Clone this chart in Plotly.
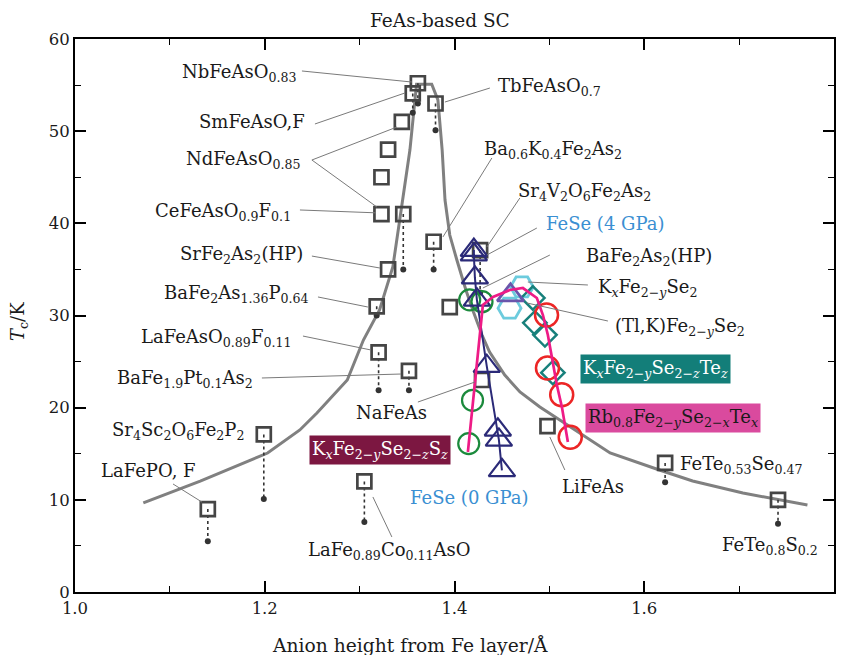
import plotly.graph_objects as go

FONT = "DejaVu Serif"

# ---- Tc trend curve (anion height in Å, Tc in K) ----
curve_h = [1.072, 1.132, 1.203, 1.237, 1.255, 1.287, 1.304, 1.321, 1.335, 1.345, 1.353, 1.360,
           1.376, 1.3825, 1.387, 1.390, 1.395, 1.4025, 1.412, 1.420, 1.429, 1.437, 1.453,
           1.469, 1.490, 1.511, 1.532, 1.564, 1.616, 1.651, 1.704, 1.772]
curve_tc = [9.66, 12.04, 15.08, 17.58, 19.42, 23.0, 27.34, 30.6, 35.26, 42.53, 47.95, 55.1,
            55.1, 53.4, 47.95, 42.53, 38.73, 36.02, 32.77, 30.38, 27.88, 26.04, 23.54,
            21.70, 20.07, 18.66, 17.25, 15.08, 13.24, 12.04, 10.74, 9.44]

# ---- compounds shown as open squares ----
sq_h = [1.140, 1.199, 1.305, 1.352, 1.320, 1.318, 1.330, 1.323, 1.346, 1.323, 1.330, 1.3445,
        1.356, 1.3614, 1.380, 1.378, 1.427, 1.395, 1.429, 1.498, 1.622, 1.741]
sq_tc = [9.0, 17.1, 12.0, 24.0, 26.0, 31.0, 35.0, 41.0, 41.0, 45.0, 48.0, 51.0,
         54.1, 55.2, 53.0, 38.0, 37.1, 30.9, 23.0, 18.0, 14.0, 10.0]

# ---- dotted ranges: Tc of the square down to the lower Tc value ----
drop_h = [1.140, 1.199, 1.305, 1.352, 1.320, 1.318, 1.346, 1.356, 1.3614, 1.380, 1.378, 1.427, 1.622, 1.741]
drop_top = [9.0, 17.1, 12.0, 24.0, 26.0, 31.0, 41.0, 54.1, 55.2, 53.0, 38.0, 37.1, 14.0, 10.0]
drop_bot = [5.5, 10.1, 7.6, 21.9, 21.9, 30.0, 35.0, 52.0, 53.0, 50.1, 35.0, 32.5, 11.9, 7.4]

# ---- FeSe under pressure (navy triangles, joined) ----
fese_h = [1.4204, 1.4204, 1.4215, 1.4236, 1.434, 1.4457, 1.4468, 1.450]
fese_tc = [37.1, 36.6, 34.1, 31.7, 24.5, 17.6, 16.5, 13.2]

# ---- KxFe2-ySe2-zSz (green circles) ----
green_h = [1.416, 1.429, 1.419, 1.415]
green_tc = [31.7, 31.5, 20.8, 16.1]

# ---- guide line through the selenide data (pink) ----
pink_h = [1.4141, 1.4299, 1.4405, 1.4584, 1.4721, 1.4868, 1.4932, 1.4984, 1.5026, 1.5079, 1.5132, 1.5195]
pink_tc = [15.19, 31.14, 32.01, 32.77, 32.98, 31.90, 30.05, 27.88, 25.50, 22.46, 20.07, 16.27]

# ---- Rb0.8Fe2-ySe2-xTex (red circles) ----
red_h = [1.497, 1.498, 1.513, 1.522]
red_tc = [30.05, 24.3, 21.4, 16.8]

# ---- KxFe2-ySe2-zTez (teal diamonds) ----
teal_h = [1.4826, 1.4847, 1.4953, 1.5037]
teal_tc = [31.9, 29.2, 27.9, 23.8]

# ---- KxFe2-ySe2 (light blue hexagons) ----
hex_h = [1.471, 1.458]
hex_tc = [33.1, 30.8]

# ---- (Tl,K)Fe2-ySe2 (purple triangle) ----
purple_h = [1.459]
purple_tc = [32.2]

# ---- text labels ----
label_text = [
    "NbFeAsO<sub>0.83</sub>", "TbFeAsO<sub>0.7</sub>", "SmFeAsO,F", "NdFeAsO<sub>0.85</sub>",
    "CeFeAsO<sub>0.9</sub>F<sub>0.1</sub>", "SrFe<sub>2</sub>As<sub>2</sub>(HP)",
    "BaFe<sub>2</sub>As<sub>1.36</sub>P<sub>0.64</sub>", "LaFeAsO<sub>0.89</sub>F<sub>0.11</sub>",
    "BaFe<sub>1.9</sub>Pt<sub>0.1</sub>As<sub>2</sub>",
    "Sr<sub>4</sub>Sc<sub>2</sub>O<sub>6</sub>Fe<sub>2</sub>P<sub>2</sub>", "LaFePO, F",
    "LaFe<sub>0.89</sub>Co<sub>0.11</sub>AsO", "NaFeAs", "LiFeAs",
    "FeTe<sub>0.53</sub>Se<sub>0.47</sub>", "FeTe<sub>0.8</sub>S<sub>0.2</sub>",
    "Ba<sub>0.6</sub>K<sub>0.4</sub>Fe<sub>2</sub>As<sub>2</sub>",
    "Sr<sub>4</sub>V<sub>2</sub>O<sub>6</sub>Fe<sub>2</sub>As<sub>2</sub>",
    "BaFe<sub>2</sub>As<sub>2</sub>(HP)",
    "K<sub><i>x</i></sub>Fe<sub>2−<i>y</i></sub>Se<sub>2</sub>",
    "(Tl,K)Fe<sub>2−<i>y</i></sub>Se<sub>2</sub>",
]
label_x = [1.235, 1.4436, 1.2445, 1.2392, 1.2297, 1.2424, 1.2487, 1.2297, 1.1897, 1.1812, 1.1296,
           1.3319, 1.334, 1.5464, 1.6354, 1.7324, 1.4289, 1.4647, 1.5364, 1.549, 1.5669]
label_y = [56.3, 54.8, 51.0, 46.9, 41.2, 36.6, 32.3, 27.6, 23.1, 17.5, 13.2,
           4.4, 19.5, 11.5, 13.8, 5.0, 48.0, 43.4, 36.3, 33.0, 28.7]
label_anchor = ["right", "left", "right", "right", "right", "right", "right", "right", "right",
                "right", "right", "center", "center", "center", "left", "center",
                "left", "left", "left", "left", "left"]

# FeSe pressure labels (blue)
blue_text = ["FeSe (4 GPa)", "FeSe (0 GPa)"]
blue_x = [1.4942, 1.4162]
blue_y = [40.0, 10.3]
blue_anchor = ["left", "center"]

# boxed series labels
box_text = ["K<sub><i>x</i></sub>Fe<sub>2−<i>y</i></sub>Se<sub>2−<i>z</i></sub>Te<sub><i>z</i></sub>",
            "Rb<sub>0.8</sub>Fe<sub>2−<i>y</i></sub>Se<sub>2−<i>x</i></sub>Te<sub><i>x</i></sub>",
            "K<sub><i>x</i></sub>Fe<sub>2−<i>y</i></sub>Se<sub>2−<i>z</i></sub>S<sub><i>z</i></sub>"]
box_x = [1.6122, 1.6301, 1.3214]
box_y = [24.25, 18.93, 15.41]
box_bg = ["#137e79", "#da4a9e", "#7c1741"]
box_fg = ["white", "#1a1a1a", "white"]

# leader lines from labels to their points
lead_x0 = [1.2392, 1.4373, 1.2529, 1.2497, 1.2497, 1.2371, 1.2497, 1.2561, 1.2403, 1.1970, 1.1033,
           1.3140, 1.3614, 1.5163, 1.4394, 1.4689, 1.4868, 1.5005, 1.5406, 1.5617]
lead_y0 = [56.53, 54.68, 50.78, 46.87, 46.87, 41.45, 36.45, 32.01, 27.77, 23.22, 11.72,
           10.31, 20.61, 13.24, 47.09, 42.75, 39.49, 36.56, 33.31, 29.40]
lead_x1 = [1.3551, 1.3899, 1.3477, 1.3393, 1.3182, 1.3172, 1.3214, 1.3087, 1.3119, 1.3435, 1.1338,
           1.3340, 1.4215, 1.5005, 1.3878, 1.4341, 1.4341, 1.4299, 1.4773, 1.4763]
lead_y1 = [55.33, 53.16, 54.14, 50.45, 41.77, 41.14, 35.15, 30.92, 26.26, 23.65, 9.76,
           5.97, 22.78, 16.82, 38.52, 37.43, 36.56, 32.98, 33.63, 31.36]

LABEL_SIZE = 18
WIDTH, HEIGHT = 846, 655
LEFT, RIGHT, TOP, BOTTOM = 75, 12, 39, 63
PW, PH = WIDTH - LEFT - RIGHT, HEIGHT - TOP - BOTTOM

fig = go.Figure()

# trend curve
fig.add_trace(go.Scatter(x=curve_h, y=curve_tc, mode="lines",
                         line=dict(color="#808080", width=3), hoverinfo="skip"))

# dotted ranges with end dots
for h, top, bot in zip(drop_h, drop_top, drop_bot):
    fig.add_trace(go.Scatter(x=[h, h], y=[top, bot], mode="lines",
                             line=dict(color="#333333", width=1.6, dash="dot"), hoverinfo="skip"))
fig.add_trace(go.Scatter(x=drop_h, y=drop_bot, mode="markers",
                         marker=dict(color="#333333", size=6), hoverinfo="skip"))

# squares
fig.add_trace(go.Scatter(x=sq_h, y=sq_tc, mode="markers",
                         marker=dict(symbol="square-open", size=14, color="#454545",
                                     line=dict(width=2.7, color="#454545"))))

# green circles
fig.add_trace(go.Scatter(x=green_h, y=green_tc, mode="markers",
                         marker=dict(symbol="circle-open", size=21, color="#1b8a3c",
                                     line=dict(width=2.2, color="#1b8a3c"))))

# hexagons
fig.add_trace(go.Scatter(x=hex_h, y=hex_tc, mode="markers",
                         marker=dict(symbol="hexagon2-open", size=23, color="#6ccbdd",
                                     line=dict(width=2.8, color="#6ccbdd"))))

# teal diamonds
fig.add_trace(go.Scatter(x=teal_h, y=teal_tc, mode="markers",
                         marker=dict(symbol="diamond-open", size=18, color="#17807b",
                                     line=dict(width=2.5, color="#17807b"))))

# red circles
fig.add_trace(go.Scatter(x=red_h, y=red_tc, mode="markers",
                         marker=dict(symbol="circle-open", size=23, color="#ec2525",
                                     line=dict(width=2.5, color="#ec2525"))))

# purple triangle
fig.add_trace(go.Scatter(x=purple_h, y=purple_tc, mode="markers",
                         marker=dict(symbol="triangle-up-open", size=23, color="#6a55ab",
                                     line=dict(width=2.8, color="#6a55ab"))))

# FeSe navy triangles joined
fig.add_trace(go.Scatter(x=fese_h, y=fese_tc, mode="lines+markers",
                         line=dict(color="#2b2a78", width=2),
                         marker=dict(symbol="triangle-up-open", size=23, color="#2b2a78",
                                     line=dict(width=2.2, color="#2b2a78"))))

# pink guide line
fig.add_trace(go.Scatter(x=pink_h, y=pink_tc, mode="lines",
                         line=dict(color="#ee1b86", width=2.7), hoverinfo="skip"))

shapes = []
for x0, y0, x1, y1 in zip(lead_x0, lead_y0, lead_x1, lead_y1):
    shapes.append(dict(type="line", xref="x", yref="y", x0=x0, y0=y0, x1=x1, y1=y1,
                       line=dict(color="#7a7a7a", width=1)))

annotations = []
for t, x, y, a in zip(label_text, label_x, label_y, label_anchor):
    annotations.append(dict(text=t, x=x, y=y, xref="x", yref="y", xanchor=a, yanchor="middle",
                            showarrow=False, font=dict(family=FONT, size=LABEL_SIZE, color="#1a1a1a")))
for t, x, y, a in zip(blue_text, blue_x, blue_y, blue_anchor):
    annotations.append(dict(text=t, x=x, y=y, xref="x", yref="y", xanchor=a, yanchor="middle",
                            showarrow=False, font=dict(family=FONT, size=LABEL_SIZE, color="#3a8fd2")))
for t, x, y, bg, fg in zip(box_text, box_x, box_y, box_bg, box_fg):
    annotations.append(dict(text=t, x=x, y=y, xref="x", yref="y", xanchor="center", yanchor="middle",
                            showarrow=False, bgcolor=bg, borderpad=2,
                            font=dict(family=FONT, size=LABEL_SIZE, color=fg)))


def paper_x(px):
    return (px - LEFT) / PW


def paper_y(py):
    return (HEIGHT - BOTTOM - py) / PH


# chart title and axis titles
annotations.append(dict(text="FeAs-based SC", x=paper_x(439.5), y=paper_y(20),
                        xref="paper", yref="paper", xanchor="center", yanchor="middle",
                        showarrow=False, font=dict(family=FONT, size=18.5, color="#1a1a1a")))
annotations.append(dict(text="Anion height from Fe layer/Å", x=paper_x(410), y=paper_y(645),
                        xref="paper", yref="paper", xanchor="center", yanchor="middle",
                        showarrow=False, font=dict(family=FONT, size=18.7, color="#1a1a1a")))
annotations.append(dict(text="<i>T</i><sub>c</sub>/K", x=paper_x(19), y=paper_y(322),
                        xref="paper", yref="paper", xanchor="center", yanchor="middle",
                        textangle=-90, showarrow=False,
                        font=dict(family=FONT, size=18, color="#1a1a1a")))

fig.update_layout(
    width=WIDTH, height=HEIGHT,
    margin=dict(l=LEFT, r=RIGHT, t=TOP, b=BOTTOM, autoexpand=False),
    paper_bgcolor="white", plot_bgcolor="white",
    showlegend=False,
    font=dict(family=FONT, size=17, color="#1a1a1a"),
    shapes=shapes,
    annotations=annotations,
)

fig.update_xaxes(range=[1.0, 1.8], tick0=1.0, dtick=0.2, tickformat=".1f", automargin=False,
                 ticks="inside", ticklen=11, tickwidth=1.5, tickcolor="black",
                 showline=True, linewidth=2, linecolor="black", mirror="ticks",
                 showgrid=False, zeroline=False,
                 minor=dict(dtick=0.1, ticks="inside", ticklen=6, tickwidth=1.2, tickcolor="black"),
                 tickfont=dict(family=FONT, size=16.5))
fig.update_yaxes(range=[0, 60], tick0=0, dtick=10, automargin=False,
                 ticks="inside", ticklen=11, tickwidth=1.5, tickcolor="black",
                 showline=True, linewidth=2, linecolor="black", mirror="ticks",
                 showgrid=False, zeroline=False,
                 minor=dict(dtick=5, ticks="inside", ticklen=6, tickwidth=1.2, tickcolor="black"),
                 tickfont=dict(family=FONT, size=16.5))

fig.write_html("out.html")
